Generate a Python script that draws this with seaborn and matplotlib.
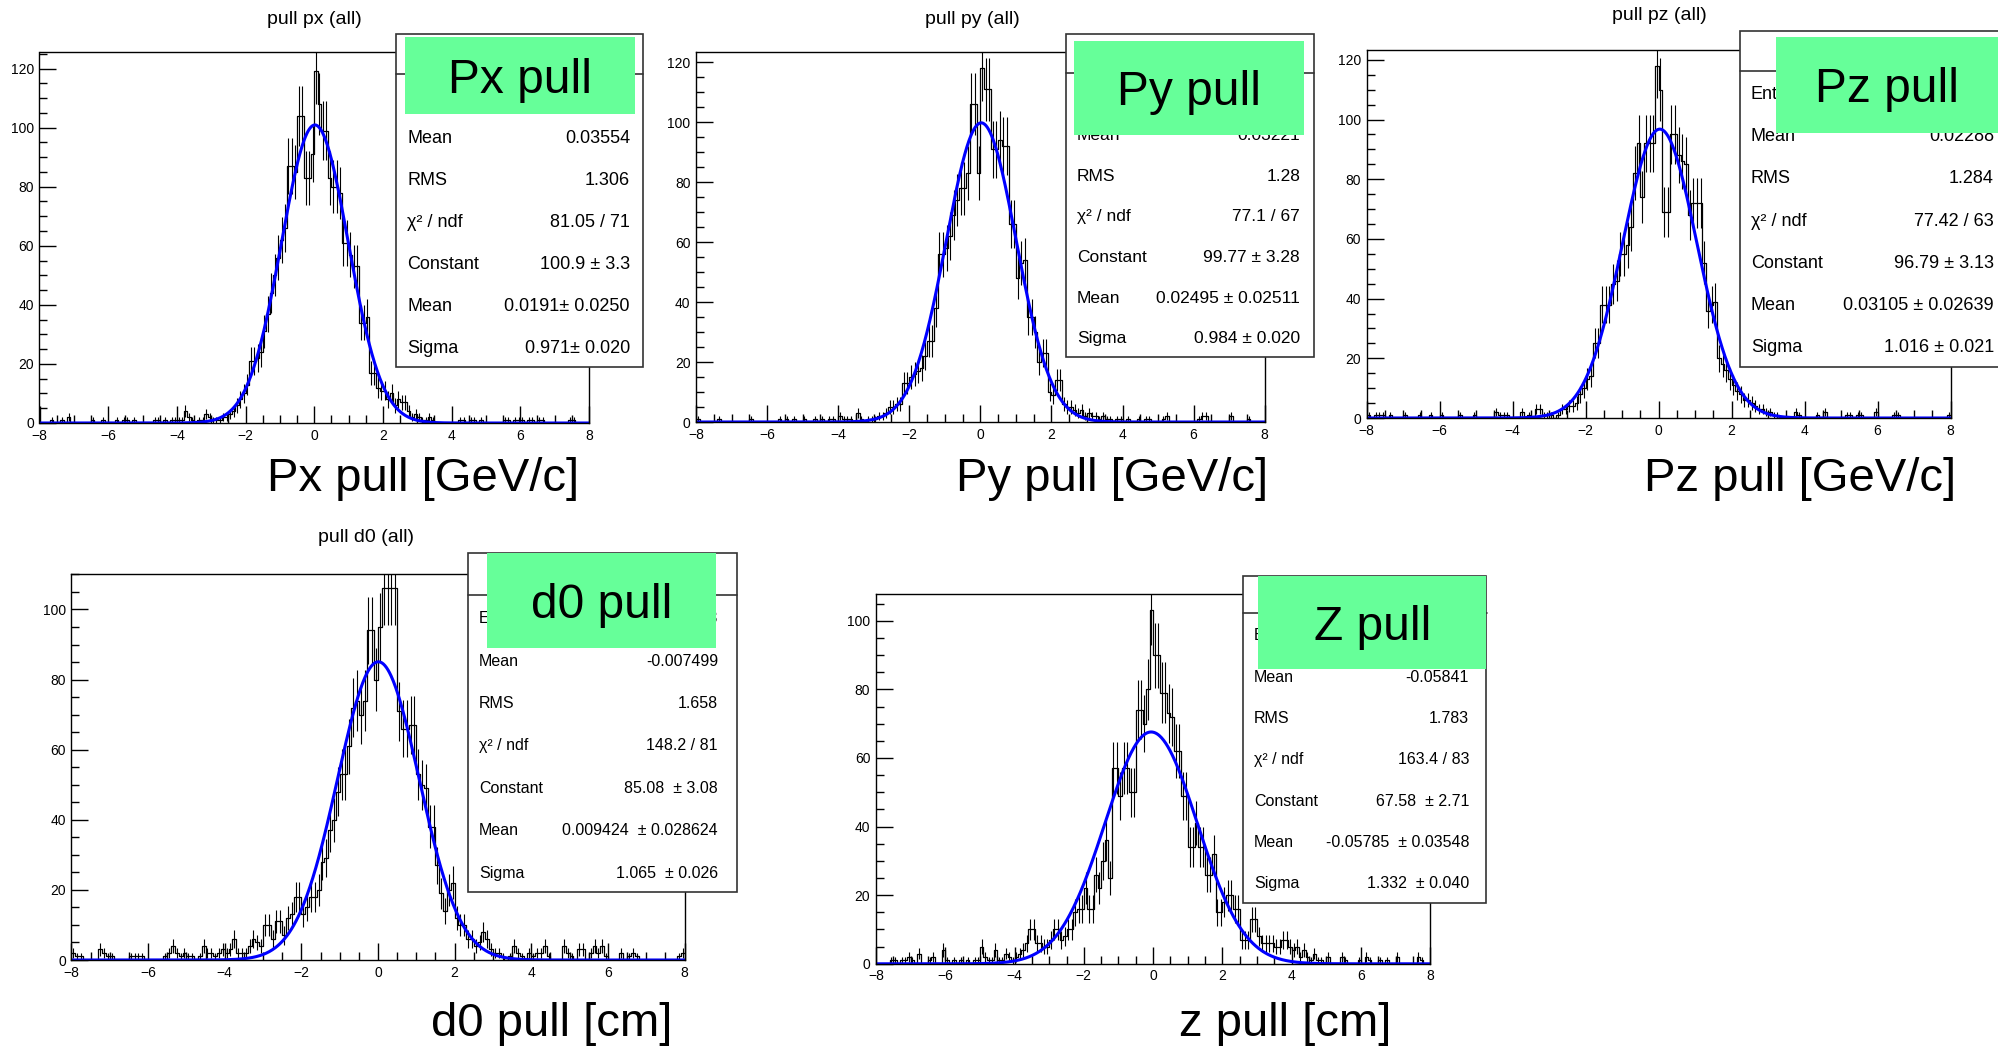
import numpy as np
import pandas as pd
import matplotlib
matplotlib.use("Agg")
import matplotlib.pyplot as plt
from matplotlib.patches import Rectangle
from matplotlib.lines import Line2D
from matplotlib.ticker import MultipleLocator
import seaborn as sns

W, H = 1999, 1050

# 160 bins of width 0.1 from -8 to 8 (one row = one unit)
edges = np.round(np.linspace(-8.0, 8.0, 161), 2)
centers = (edges[:-1] + edges[1:]) / 2

px_counts = [
    0, 0, 0, 1, 0, 0, 1, 0, 2, 0,
    0, 0, 0, 0, 0, 1, 0, 0, 1, 0,
    0, 0, 1, 0, 1, 1, 0, 1, 0, 0,
    0, 0, 0, 1, 1, 0, 1, 0, 1, 1,
    1, 1, 4, 2, 1, 0, 1, 1, 3, 2,
    1, 1, 1, 2, 2, 3, 4, 6, 8, 10,
    13, 21, 21, 22, 24, 31, 37, 44, 50, 56,
    62, 66, 87, 87, 85, 104, 104, 83, 83, 91,
    119, 108, 99, 99, 83, 80, 80, 78, 61, 61,
    57, 53, 53, 34, 34, 36, 17, 17, 12, 11,
    11, 8, 10, 6, 8, 7, 7, 4, 2, 3,
    2, 1, 1, 2, 1, 0, 0, 0, 0, 0,
    0, 0, 1, 1, 0, 1, 1, 0, 1, 0,
    0, 0, 0, 0, 0, 1, 1, 0, 1, 1,
    1, 0, 1, 1, 0, 1, 1, 0, 0, 0,
    0, 0, 0, 0, 1, 1, 0, 0, 0, 0,
]
py_counts = [
    1, 0, 0, 0, 0, 0, 1, 0, 0, 0,
    0, 0, 0, 0, 0, 1, 0, 0, 0, 0,
    0, 0, 0, 1, 0, 1, 0, 1, 0, 0,
    1, 0, 0, 1, 0, 1, 0, 1, 1, 0,
    2, 1, 1, 1, 0, 3, 1, 0, 1, 1,
    1, 2, 2, 3, 5, 5, 6, 6, 13, 13,
    15, 16, 17, 18, 22, 27, 27, 38, 56, 56,
    58, 62, 69, 74, 78, 78, 83, 106, 106, 83,
    118, 111, 111, 91, 91, 94, 92, 92, 66, 66,
    48, 53, 54, 35, 35, 30, 20, 23, 23, 10,
    9, 14, 14, 6, 5, 5, 4, 3, 4, 2,
    3, 2, 2, 1, 2, 1, 1, 0, 1, 1,
    0, 1, 0, 0, 1, 0, 1, 1, 0, 0,
    0, 1, 2, 0, 0, 0, 0, 0, 0, 0,
    0, 1, 2, 2, 0, 0, 0, 0, 0, 0,
    2, 0, 0, 0, 0, 1, 0, 0, 0, 0,
]
pz_counts = [
    1, 0, 1, 1, 1, 0, 1, 0, 0, 0,
    1, 0, 0, 0, 1, 0, 0, 1, 0, 0,
    1, 0, 0, 0, 0, 1, 0, 0, 0, 1,
    0, 0, 0, 0, 0, 2, 1, 1, 1, 0,
    0, 0, 2, 0, 1, 0, 3, 3, 1, 1,
    1, 0, 1, 3, 3, 4, 4, 5, 8, 10,
    13, 14, 25, 25, 38, 38, 38, 45, 46, 55,
    55, 58, 64, 82, 92, 74, 92, 92, 92, 118,
    110, 69, 69, 95, 95, 88, 86, 85, 68, 72,
    72, 72, 52, 36, 38, 39, 20, 18, 16, 13,
    11, 9, 8, 6, 6, 5, 4, 3, 3, 2,
    2, 1, 1, 0, 0, 0, 0, 2, 1, 0,
    0, 0, 0, 1, 0, 2, 0, 0, 0, 0,
    0, 1, 1, 0, 1, 1, 0, 0, 0, 2,
    0, 0, 0, 0, 1, 1, 0, 0, 0, 0,
    0, 0, 0, 0, 0, 0, 0, 0, 0, 1,
]
d0_counts = [
    2, 1, 1, 0, 0, 0, 0, 3, 2, 1,
    1, 0, 0, 0, 0, 1, 1, 1, 1, 0,
    0, 0, 0, 0, 1, 2, 4, 2, 1, 2,
    1, 1, 0, 1, 4, 2, 2, 1, 2, 3,
    2, 3, 6, 2, 2, 2, 4, 6, 5, 4,
    10, 10, 6, 11, 11, 7, 12, 13, 18, 18,
    13, 15, 18, 18, 20, 28, 29, 37, 40, 48,
    53, 53, 61, 72, 74, 70, 74, 94, 94, 80,
    95, 106, 106, 106, 106, 71, 66, 66, 67, 67,
    53, 50, 49, 38, 38, 27, 19, 14, 20, 22,
    12, 10, 10, 6, 6, 4, 5, 8, 6, 3,
    2, 2, 1, 0, 1, 4, 2, 1, 0, 2,
    1, 2, 2, 4, 1, 0, 0, 0, 4, 2,
    1, 0, 3, 3, 0, 2, 4, 2, 4, 1,
    0, 0, 0, 2, 0, 1, 2, 1, 0, 0,
    0, 0, 0, 0, 0, 0, 0, 0, 1, 2,
]
z_counts = [
    0, 0, 0, 0, 1, 1, 0, 1, 1, 2,
    1, 0, 3, 0, 0, 1, 2, 0, 0, 4,
    1, 0, 1, 0, 1, 0, 1, 0, 1, 1,
    5, 2, 1, 1, 4, 1, 1, 3, 2, 1,
    2, 3, 4, 6, 10, 10, 6, 6, 5, 5,
    7, 10, 10, 7, 8, 10, 10, 15, 16, 16,
    22, 16, 16, 26, 22, 30, 36, 25, 57, 57,
    49, 57, 57, 50, 50, 74, 74, 70, 80, 103,
    90, 90, 79, 79, 73, 72, 62, 62, 49, 49,
    34, 34, 41, 34, 34, 26, 26, 32, 15, 15,
    18, 20, 20, 16, 16, 7, 7, 7, 13, 13,
    8, 6, 6, 6, 6, 5, 5, 7, 7, 5,
    4, 5, 2, 4, 2, 1, 3, 1, 1, 0,
    2, 0, 0, 0, 2, 1, 0, 0, 0, 1,
    0, 2, 1, 0, 0, 1, 0, 1, 0, 0,
    2, 0, 0, 0, 0, 0, 2, 1, 0, 0,
]

# gaussian fit results (constant, mean, sigma) as printed in the stat boxes
fit_px = (100.9, 0.0191, 0.971)
fit_py = (99.77, 0.02495, 0.984)
fit_pz = (96.79, 0.03105, 1.016)
fit_d0 = (85.08, 0.009424, 1.065)
fit_z = (67.58, -0.05785, 1.332)

stat_names = ["Entries", "Mean", "RMS", "χ² / ndf", "Constant", "Mean", "Sigma"]
stats_px = ["0.03554", "1.306", "81.05 / 71", "100.9 ± 3.3", "0.0191± 0.0250", "0.971± 0.020"]
stats_py = ["0.03221", "1.28", "77.1 / 67", "99.77 ± 3.28", "0.02495 ± 0.02511", "0.984 ± 0.020"]
stats_pz = ["0.02288", "1.284", "77.42 / 63", "96.79 ± 3.13", "0.03105 ± 0.02639", "1.016 ± 0.021"]
stats_d0 = ["-0.007499", "1.658", "148.2 / 81", "85.08  ± 3.08", "0.009424  ± 0.028624", "1.065  ± 0.026"]
stats_z = ["-0.05841", "1.783", "163.4 / 83", "67.58  ± 2.71", "-0.05785  ± 0.03548", "1.332  ± 0.040"]

titles = ["pull px (all)", "pull py (all)", "pull pz (all)", "pull d0 (all)", ""]
tags = ["Px pull", "Py pull", "Pz pull", "d0 pull", "Z pull"]
xlabels = ["Px pull [GeV/c]", "Py pull [GeV/c]", "Pz pull [GeV/c]", "d0 pull [cm]", "z pull [cm]"]

panels = [
    dict(counts=px_counts, fit=fit_px, stats=stats_px, ymax=125.6,
         ax=(39.5, 52, 589, 423), title=(314, 19),
         box=(396.5, 34.4, 642.5, 367), sep=74, vright=630, sfs=13,
         green=(405.4, 37, 634.9, 113.5), xlab=(423, 479)),
    dict(counts=py_counts, fit=fit_py, stats=stats_py, ymax=123.4,
         ax=(696, 52, 1264.7, 422), title=(972, 19),
         box=(1066, 34.4, 1314, 357), sep=72.7, vright=1300, sfs=12.5,
         green=(1073.5, 40.8, 1304, 135), xlab=(1112, 479)),
    dict(counts=pz_counts, fit=fit_pz, stats=stats_pz, ymax=123.4,
         ax=(1366.7, 49.7, 1950.6, 418), title=(1659, 15),
         box=(1740, 30.6, 2008, 367), sep=71.4, vright=1994, sfs=13,
         green=(1776, 37, 2008, 132.6), xlab=(1800, 479)),
    dict(counts=d0_counts, fit=fit_d0, stats=stats_d0, ymax=110.2,
         ax=(71.4, 573.7, 684.6, 960), title=(366, 537),
         box=(468, 553, 737, 892.4), sep=595.4, vright=718, sfs=11.5,
         green=(487, 553, 716.5, 647.6), xlab=(552, 1024)),
    dict(counts=z_counts, fit=fit_z, stats=stats_z, ymax=107.8,
         ax=(875.9, 594, 1430.4, 963.8), title=None,
         box=(1243, 576, 1486.5, 902.6), sep=613, vright=1469, sfs=11.5,
         green=(1258, 576, 1486.5, 669), xlab=(1285, 1024)),
]

sns.set_style("ticks")
plt.rcParams["font.family"] = ["Liberation Sans", "DejaVu Sans"]
plt.rcParams["text.color"] = "black"

fig = plt.figure(figsize=(W / 100, H / 100), dpi=100)


def fx(x):
    return x / W


def fy(y):
    return 1 - y / H


def fig_rect(l, t, r, b, **kw):
    rect = Rectangle((fx(l), fy(b)), (r - l) / W, (b - t) / H,
                     transform=fig.transFigure, **kw)
    fig.patches.append(rect)


xs = np.linspace(-8, 8, 801)

for i, p in enumerate(panels):
    l, t, r, b = p["ax"]
    ax = fig.add_axes([fx(l), fy(b), (r - l) / W, (b - t) / H])
    counts = np.array(p["counts"], dtype=float)
    hist_df = pd.DataFrame({"pull": centers, "n": counts})

    # histogram outline + poisson error bars
    sns.histplot(data=hist_df, x="pull", weights="n", bins=list(edges),
                 element="step", fill=False, color="black", linewidth=0.9,
                 ax=ax)
    m = counts > 0
    ax.errorbar(centers[m], counts[m], yerr=np.sqrt(counts[m]), fmt="none",
                ecolor="black", elinewidth=0.8)

    # gaussian fit
    c, mu, sg = p["fit"]
    fit_df = pd.DataFrame({"x": xs, "y": c * np.exp(-0.5 * ((xs - mu) / sg) ** 2)})
    sns.lineplot(data=fit_df, x="x", y="y", color="#0000ff", linewidth=2.2,
                 ax=ax)

    ax.set_xlim(-8, 8)
    ax.set_ylim(0, p["ymax"])
    ax.set_xlabel("")
    ax.set_ylabel("")
    ax.xaxis.set_major_locator(MultipleLocator(2))
    ax.xaxis.set_minor_locator(MultipleLocator(0.5))
    ax.yaxis.set_major_locator(MultipleLocator(20))
    ax.yaxis.set_minor_locator(MultipleLocator(5))
    ax.tick_params(which="both", direction="in", top=False, right=False,
                   labelsize=10, colors="black", labelcolor="black",
                   width=1, pad=4)
    ax.tick_params(which="major", length=12)
    ax.tick_params(which="minor", length=6)
    for sp in ax.spines.values():
        sp.set_color("black")
        sp.set_linewidth(1)

    if p["title"]:
        fig.text(fx(p["title"][0]), fy(p["title"][1]), titles[i],
                 ha="center", va="center", fontsize=14, color="black")

    # stat box
    bl, bt, br, bb = p["box"]
    fig_rect(bl, bt, br, bb, facecolor="white", edgecolor="#333333",
             linewidth=1.2, zorder=5)
    fig.lines.append(Line2D([fx(bl), fx(br)], [fy(p["sep"]), fy(p["sep"])],
                            transform=fig.transFigure, color="#333333",
                            linewidth=1.2, zorder=5.5))
    values = [str(int(counts.sum()))] + p["stats"]
    step = (bb - p["sep"]) / 7
    for k, (name, val) in enumerate(zip(stat_names, values)):
        yy = p["sep"] + (k + 0.5) * step + 2
        fig.text(fx(bl + 11), fy(yy), name, ha="left", va="center",
                 fontsize=p["sfs"], color="black", zorder=6)
        fig.text(fx(p["vright"]), fy(yy), val, ha="right", va="center",
                 fontsize=p["sfs"], color="black", zorder=6)

    # green tag
    gl, gt, gr, gb = p["green"]
    fig_rect(gl, gt, gr, gb, facecolor="#66ff99", edgecolor="none", zorder=7)
    fig.text(fx((gl + min(gr, W)) / 2), fy((gt + gb) / 2 + 5), tags[i],
             ha="center", va="center", fontsize=34.5, color="black", zorder=8)

    fig.text(fx(p["xlab"][0]), fy(p["xlab"][1]), xlabels[i],
             ha="center", va="center", fontsize=34, color="black")

fig.savefig("out.png", dpi=100)
